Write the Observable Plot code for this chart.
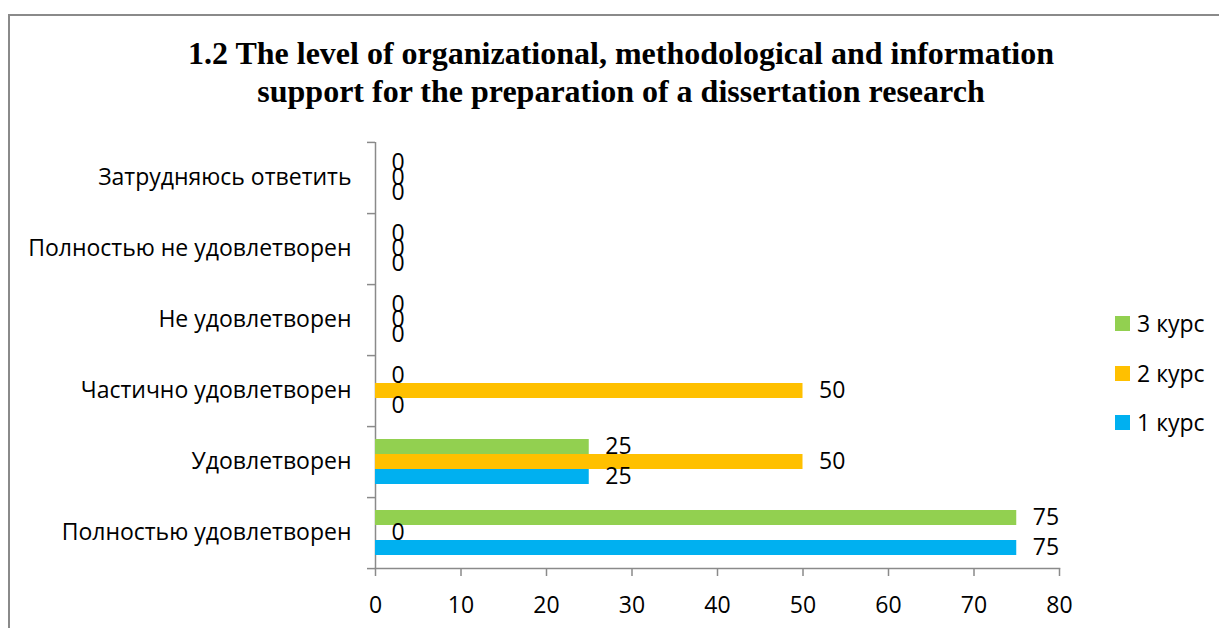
<!DOCTYPE html>
<html>
<head>
<meta charset="utf-8">
<script src="https://cdn.jsdelivr.net/npm/d3@7"></script>
<script src="https://cdn.jsdelivr.net/npm/@observablehq/plot@0.6"></script>
<style>
  html, body { margin: 0; padding: 0; background: #fff; overflow: hidden; width: 1219px; height: 628px; }
  #frame { position: absolute; left: 8px; top: 14px; width: 1400px; height: 800px; border: 2px solid #8a8a8a; box-sizing: border-box; }
  #title { position: absolute; left: 0; top: 34px; width: 1242px; text-align: center; font-family: "Liberation Serif", "Times New Roman", serif; font-weight: bold; font-size: 32px; line-height: 38px; color: #000; }
  #chart { position: absolute; left: 0; top: 120px; }
  #legend { position: absolute; left: 1115px; top: 0; font-family: "Open Sans", sans-serif; font-size: 23px; color: #000; }
  .item { position: absolute; left: 0; height: 30px; white-space: nowrap; display: flex; align-items: center; }
  .sw { width: 15px; height: 15px; margin-right: 7px; }
</style>
</head>
<body>
<div id="frame"></div>
<div id="title">1.2 The level of organizational, methodological and information<br>support for the preparation of a dissertation research</div>
<div id="chart"></div>
<div id="legend"></div>
<script>
const categories = [
  "Затрудняюсь ответить",
  "Полностью не удовлетворен",
  "Не удовлетворен",
  "Частично удовлетворен",
  "Удовлетворен",
  "Полностью удовлетворен"
];
const series = ["3 курс", "2 курс", "1 курс"];
const colors = ["#92D050", "#FFC000", "#00B0F0"];
// values per category (same order as categories)
const kurs1 = [0, 0, 0, 0, 25, 75];
const kurs2 = [0, 0, 0, 50, 50, 0];
const kurs3 = [0, 0, 0, 0, 25, 75];
const xTicks = [0, 10, 20, 30, 40, 50, 60, 70, 80];

const valuesBySeries = {"1 курс": kurs1, "2 курс": kurs2, "3 курс": kurs3};
const data = [];
categories.forEach((c, i) => {
  series.forEach(s => data.push({category: c, series: s, value: valuesBySeries[s][i]}));
});

const width = 1219, height = 508;
const marginTop = 21, marginBottom = 60, marginLeft = 375, marginRight = 160;
const step = (height - marginTop - marginBottom) / categories.length;
const font = "Open Sans, sans-serif";
const axisColor = "#8a8a8a";

const chart = Plot.plot({
  width, height, marginTop, marginBottom, marginLeft, marginRight,
  style: {fontFamily: font, fontSize: "23px", color: "#000", background: "transparent"},
  x: {domain: [0, 80], axis: null},
  y: {domain: series, paddingInner: 0, paddingOuter: 0.75, axis: null},
  fy: {domain: categories, padding: 0, axis: null},
  color: {domain: series, range: colors},
  marks: [
    Plot.ruleX([0], {stroke: axisColor, strokeWidth: 1.5}),
    Plot.frame({anchor: "bottom", facetAnchor: "bottom", stroke: axisColor, strokeWidth: 1.5}),
    Plot.barX(data, {fy: "category", y: "series", x: "value", fill: "series"}),
    Plot.text(data, {fy: "category", y: "series", x: "value", text: d => String(d.value), textAnchor: "start", dx: 16, fill: "#000", fontSize: 23}),
    Plot.axisX({ticks: xTicks, tickSize: 8, tickPadding: 20, stroke: axisColor, strokeWidth: 1.5, fill: "#000", label: null, fontSize: 23}),
    Plot.axisFy({anchor: "left", tickSize: 0, tickPadding: 24, label: null, fill: "#000", fontSize: 23}),
    Plot.axisFy({anchor: "left", tickSize: 8, dy: step / 2, tickFormat: () => "", label: null, stroke: axisColor, strokeWidth: 1.5}),
    Plot.axisFy({anchor: "left", ticks: [categories[0]], tickSize: 8, dy: -step / 2, tickFormat: () => "", label: null, stroke: axisColor, strokeWidth: 1.5})
  ]
});
document.getElementById("chart").appendChild(chart);

const legend = document.getElementById("legend");
const legendOrder = ["3 курс", "2 курс", "1 курс"];
const legendTops = [308, 358, 407];
legendOrder.forEach((s, i) => {
  const it = document.createElement("div");
  it.className = "item";
  it.style.top = legendTops[i] + "px";
  it.innerHTML = `<span class="sw" style="background:${colors[series.indexOf(s)]}"></span><span>${s}</span>`;
  legend.appendChild(it);
});
</script>
</body>
</html>
